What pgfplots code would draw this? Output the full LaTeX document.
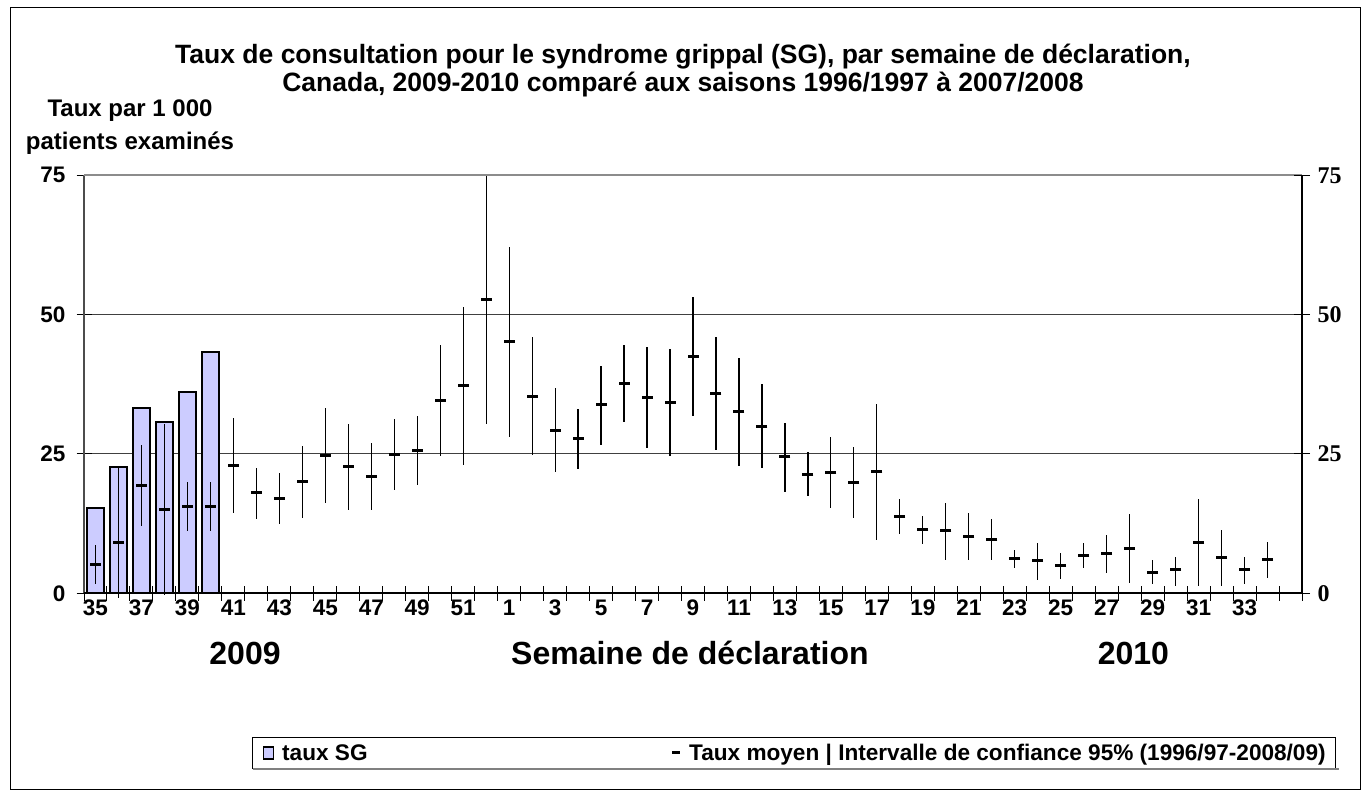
\documentclass[border=0pt]{standalone}
\usepackage{pgfplots}
\pgfplotsset{compat=1.18}
\usepackage{pgfplotstable}
\usepackage{fontspec}
\setmainfont{Liberation Sans}
\newfontfamily\timesfont{Liberation Serif}
\definecolor{barfill}{RGB}{204,204,255}

\pgfplotstableread{
i m lo hi
0 5.2 1.6 8.7
1 9.1 -0.8 22.5
2 19.3 12.0 26.6
3 15.0 -0.3 30.4
4 15.6 11.1 20.0
5 15.6 11.1 20.0
6 23.0 14.4 31.5
7 18.0 13.4 22.4
8 17.0 12.4 21.6
9 20.1 13.6 26.5
10 24.8 16.2 33.3
11 22.7 14.9 30.4
12 21.0 14.9 27.0
13 24.9 18.6 31.2
14 25.7 19.4 31.8
15 34.6 24.6 44.5
16 37.2 23.0 51.3
17 52.8 30.4 75.0
18 45.1 28.0 62.1
19 35.4 24.8 46.0
20 29.3 21.7 36.8
21 27.7 22.3 33.1
22 33.8 26.7 40.8
23 37.7 30.8 44.6
24 35.1 26.1 44.2
25 34.2 24.7 43.9
26 42.5 31.8 53.1
27 35.9 25.7 46.0
28 32.6 22.8 42.2
29 30.0 22.4 37.6
30 24.5 18.2 30.5
31 21.4 17.4 25.3
32 21.7 15.3 28.1
33 19.9 13.6 26.3
34 21.8 9.5 33.9
35 13.8 10.6 17.0
36 11.4 8.9 13.8
37 11.2 6.0 16.2
38 10.2 5.9 14.4
39 9.6 5.9 13.3
40 6.2 4.5 7.7
41 5.8 2.4 9.1
42 5.0 2.6 7.3
43 6.8 4.5 9.0
44 7.2 3.7 10.5
45 8.0 1.8 14.2
46 3.8 1.6 5.9
47 4.2 1.4 6.6
48 9.2 1.3 16.9
49 6.4 1.4 11.3
50 4.2 1.6 6.5
51 6.1 2.7 9.2
}\ci

\begin{document}
\begin{tikzpicture}[x=1bp,y=1bp]
\useasboundingbox (0,0) rectangle (1369,-796);
\draw[line width=1bp] (10,-8) rectangle (1360,-789);
\begin{axis}[
  at={(84bp,-593.3bp)}, anchor=south west,
  scale only axis, width=1218bp, height=418bp,
  xmin=-0.5, xmax=52.5, ymin=0, ymax=75,
  clip=false,
  axis line style={draw=none},
  xtick={0,2,...,50},
  xticklabels={35,37,39,41,43,45,47,49,51,1,3,5,7,9,11,13,15,17,19,21,23,25,27,29,31,33},
  minor xtick={-0.5,0.5,...,52.5},
  ytick={0,25,50,75}, yticklabels={0,25,50,75},
  minor ytick={0,25,50,75},
  major tick length=0pt, minor tick length=15bp, tick align=center,
  xtick pos=bottom, ytick pos=left,
  minor tick style={line width=1bp, black},
  ymajorgrids, major grid style={draw=black!75, line width=1bp},
  ticklabel style={font=\bfseries\fontsize{22.5bp}{24bp}\selectfont},
  xticklabel style={yshift=-3bp},
  yticklabel style={xshift=-15bp},
  title={Taux de consultation pour le syndrome grippal (SG), par semaine de déclaration,\\Canada, 2009-2010 comparé aux saisons 1996/1997 à 2007/2008},
  title style={at={(axis description cs:0.4918,1.2352)}, anchor=center, align=center, font=\bfseries\fontsize{26.5bp}{28bp}\selectfont},
  ylabel={Taux par 1 000\\patients examinés},
  ylabel style={rotate=-90, at={(axis description cs:0.0378,1.1155)}, anchor=center, align=center, font=\bfseries\fontsize{24bp}{33bp}\selectfont},
  xlabel={Semaine de déclaration},
  xlabel style={at={(axis description cs:0.4975,-0.1691)}, anchor=base, font=\bfseries\fontsize{32bp}{34bp}\selectfont},
  legend columns=2,
  legend cell align=left,
  legend style={at={(axis description cs:0.1379,-0.3438)}, anchor=north west, draw=black, line width=1bp, fill=white,
    font=\bfseries\fontsize{22.6bp}{24bp}\selectfont, inner xsep=8bp, inner ysep=4bp,
    nodes={inner ysep=2.5bp},
    /tikz/every odd column/.append style={column sep=6bp},
    /tikz/every even column/.append style={column sep=0bp}},
]
\addplot[ybar, bar width=16.5bp, fill=barfill, draw=black, line width=2bp,
  legend image code/.code={\path[draw=none] (-3bp,0bp); \draw[fill=barfill,draw=black,line width=1.5bp] (0bp,-6bp) rectangle (10bp,6bp);}]
  coordinates {(0,15.3) (1,22.6) (2,33.3) (3,30.7) (4,36.1) (5,43.3)};
\addlegendentry{\makebox[385bp][l]{taux SG}}
\addplot[black, only marks, mark=-, mark size=5.5bp, mark options={line width=3bp},
  legend image code/.code={\path[draw=none] (-12bp,0bp) -- (0bp,0bp); \draw[line width=3bp, overlay] (-9bp,0bp) -- (-1bp,0bp);},
  error bars/.cd, y dir=both, y explicit, error mark=none, error bar style={line width=1.2bp}]
  table[x=i, y=m, y error plus expr=\thisrow{hi}-\thisrow{m}, y error minus expr=\thisrow{m}-\thisrow{lo}] {\ci};
\addlegendentry{Taux moyen | Intervalle de confiance 95\% (1996/97-2008/09)}
\draw[line width=2bp, black!70] (rel axis cs:0,0) -- (rel axis cs:0,1);
\draw[line width=2bp, black!45] (rel axis cs:0,1) -- (rel axis cs:1,1);
\draw[line width=1.5bp, black] (rel axis cs:1,0) -- (rel axis cs:1,1);
\draw[line width=2bp, black] (rel axis cs:0,0) -- (rel axis cs:1,0);
\node[anchor=base, font=\bfseries\fontsize{32bp}{34bp}\selectfont] at (axis description cs:0.1322,-0.1691) {2009};
\node[anchor=base, font=\bfseries\fontsize{32bp}{34bp}\selectfont] at (axis description cs:0.8616,-0.1691) {2010};
\end{axis}
\begin{axis}[
  at={(84bp,-593.3bp)}, anchor=south west,
  scale only axis, width=1218bp, height=418bp,
  xmin=-0.5, xmax=52.5, ymin=0, ymax=75,
  hide x axis,
  axis line style={draw=none},
  ytick={0,25,50,75}, yticklabels={0,25,50,75},
  minor ytick={0,25,50,75},
  ytick pos=right, yticklabel pos=right,
  major tick length=0pt, minor tick length=16bp, tick align=center,
  minor tick style={line width=1bp, black},
  yticklabel style={xshift=12bp, font=\timesfont\bfseries\fontsize{24bp}{26bp}\selectfont},
]
\end{axis}
\draw[line width=2bp, black!50] (253,-768.5) -- (1339,-768.5);
\end{tikzpicture}
\end{document}
